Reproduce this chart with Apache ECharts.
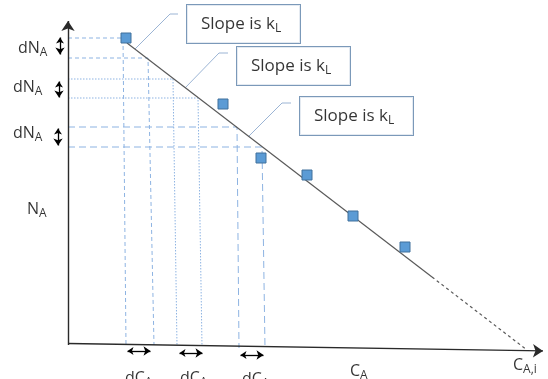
<!DOCTYPE html>
<html>
<head>
<meta charset="utf-8">
<script src="https://cdn.jsdelivr.net/npm/echarts@6/dist/echarts.min.js"></script>
<style>
  html, body { margin: 0; padding: 0; background: #fff; }
  #main { width: 548px; height: 379px; }
</style>
</head>
<body>
<div id="main"></div>
<script>
// schematic units: x = C_A, y = N_A, origin at the axis corner
var cA = [58, 155, 193, 239, 285, 337];
var nA = [309, 243, 189, 172, 131, 100];

// fitted line (slope k_L) and its extrapolation down to C_A,i
var fitSolid = [[59, 304], [364, 70]];
var fitExtrap = [[364, 70], [459, -3]];

// guide lines: N level, C where it meets the level, C where it reaches the axis
var guideN = [309, 289, 268, 249, 220, 200];
var guideC = [55, 80, 105, 130, 169, 194];
var guideCBase = [58, 86, 109, 134, 171, 197];
var guideNBase = [2, 2, 1, 1, -1, -1];

// dN_A arrows [x, top, bottom] and dC_A arrows [y, left, right], tip to tip
var dNArrows = [[-8, 313, 289], [-9, 269, 246], [-10, 222, 198]];
var dCArrows = [[-4, 56, 86], [-6, 108, 138], [-8, 169, 199]];

// axes
var axisX = [[0, 3.5], [480, -4]];
var axisY = [[0, 2], [0, 331]];

// callouts: box corner and leader polyline
var calloutText = ['Slope is k|L', 'Slope is k|L', 'Slope is k|L'];
var calloutAt = [[119, 342], [169, 300], [232, 250]];
var leaders = [
  [[110, 333], [102, 333], [67, 298]],
  [[160, 294], [151, 294], [117, 259]],
  [[223, 244], [214, 244], [180, 210]]
];

// axis / arrow labels (main|subscript)
var labelText = ['dN|A', 'dN|A', 'dN|A', 'N|A', 'dC|A', 'dC|A', 'dC|A', 'C|A', 'C|A,i'];
var labelAt = [[-50, 299], [-55, 260], [-55, 214], [-41, 138], [57, -31], [112, -31], [174, -32], [282, -24], [445, -18]];

var font = 'Open Sans';
var blue = '#8db3e2';
var dashes = [[4, 3], [4, 3], [1.5, 1.5], [1.5, 1.5], [7, 4], [7, 4]];

function rich(t) {
  var p = t.split('|');
  return '{m|' + p[0] + '}{s|' + p[1] + '}';
}

function richStyle(size, sub) {
  return {
    m: { fontSize: size, fontFamily: font, color: '#000', lineHeight: 22 },
    s: { fontSize: sub, fontFamily: font, color: '#000', lineHeight: 12, verticalAlign: 'bottom' }
  };
}

// pull both ends in so the arrow heads end on the given tips
function shrink(a, b, d) {
  var dx = b[0] - a[0], dy = b[1] - a[1];
  var len = Math.sqrt(dx * dx + dy * dy);
  var ux = dx / len * d, uy = dy / len * d;
  return [[a[0] + ux, a[1] + uy], [b[0] - ux, b[1] - uy]];
}

var guideData = guideN.map(function (n, i) {
  return {
    coords: [[0, n], [guideC[i], n], [guideCBase[i], guideNBase[i]]],
    lineStyle: { type: dashes[i] }
  };
});

var arrowData = dNArrows.map(function (a) {
  return { coords: shrink([a[0], a[1]], [a[0], a[2]], 3.5) };
}).concat(dCArrows.map(function (a) {
  return { coords: shrink([a[1], a[0]], [a[2], a[0]], 3.5) };
}));

var myChart = echarts.init(document.getElementById('main'));

var option = {
  animation: false,
  grid: { left: 0, right: 0, top: 0, bottom: 0 },
  xAxis: { type: 'value', min: -68, max: 480, show: false },
  yAxis: { type: 'value', min: -32, max: 347, show: false },
  series: [
    {
      type: 'lines',
      coordinateSystem: 'cartesian2d',
      polyline: true,
      silent: true,
      lineStyle: { color: blue, width: 1, opacity: 1 },
      data: guideData
    },
    {
      type: 'lines',
      coordinateSystem: 'cartesian2d',
      polyline: true,
      silent: true,
      lineStyle: { color: '#9bb4d4', width: 1, opacity: 1 },
      data: leaders.map(function (l) { return { coords: l }; })
    },
    {
      type: 'line',
      data: fitSolid,
      showSymbol: false,
      silent: true,
      lineStyle: { color: '#5a5a5a', width: 1.2 },
      z: 3
    },
    {
      type: 'line',
      data: fitExtrap,
      showSymbol: false,
      silent: true,
      lineStyle: { color: '#5a5a5a', width: 1.2, type: [3, 3] },
      z: 3
    },
    {
      type: 'lines',
      coordinateSystem: 'cartesian2d',
      silent: true,
      symbol: ['none', 'arrow'],
      symbolSize: [8, 10],
      lineStyle: { color: '#2a2a2a', width: 1.4, opacity: 1 },
      data: [
        { coords: [axisX[0], shrink(axisX[0], axisX[1], 5)[1]] },
        { coords: [axisY[0], shrink(axisY[0], axisY[1], 5)[1]] }
      ],
      z: 4
    },
    {
      type: 'lines',
      coordinateSystem: 'cartesian2d',
      silent: true,
      symbol: ['arrow', 'arrow'],
      symbolSize: [6, 7],
      lineStyle: { color: '#000', width: 1.3, opacity: 1 },
      data: arrowData,
      z: 4
    },
    {
      type: 'scatter',
      symbol: 'rect',
      symbolSize: 10,
      silent: true,
      itemStyle: { color: '#5b9bd5', borderColor: '#41719c', borderWidth: 1, opacity: 1 },
      data: cA.map(function (c, i) { return [c, nA[i]]; }),
      z: 5
    },
    {
      type: 'scatter',
      symbolSize: 0,
      silent: true,
      label: {
        show: true,
        position: [0, 0],
        align: 'left',
        verticalAlign: 'middle',
        rich: richStyle(16, 12),
        formatter: function (p) { return rich(labelText[p.dataIndex]); }
      },
      data: labelAt,
      z: 6
    },
    {
      type: 'scatter',
      symbolSize: 0,
      silent: true,
      label: {
        show: true,
        position: [0, 0],
        align: 'left',
        verticalAlign: 'top',
        width: 99,
        padding: [8, 0, 8, 14],
        backgroundColor: '#fff',
        borderColor: '#5a7fa8',
        borderWidth: 1,
        rich: richStyle(17, 12),
        formatter: function (p) { return rich(calloutText[p.dataIndex]); }
      },
      data: calloutAt,
      z: 7
    }
  ]
};

myChart.setOption(option);

window.addEventListener('resize', function () {
  myChart.resize();
});
</script>
</body>
</html>
